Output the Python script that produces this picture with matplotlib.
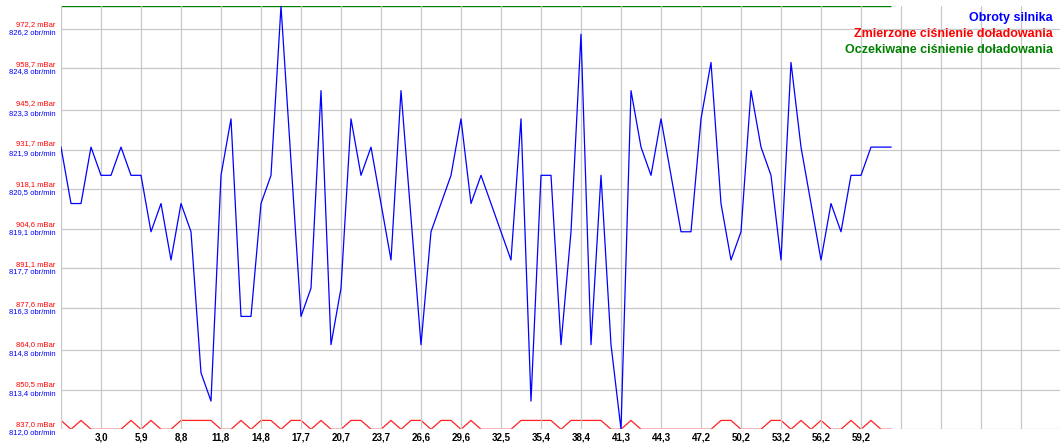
import matplotlib
matplotlib.use("Agg")
import matplotlib.pyplot as plt
import matplotlib.transforms as mtransforms

plt.rcParams['font.family'] = ['Liberation Sans', 'DejaVu Sans']

# engine speed [obr/min], one sample every step
rpm = [822, 820, 820, 822, 821, 821, 822, 821, 821, 819, 820, 818, 820, 819, 814, 813, 821, 823, 816, 816, 820,
       821, 827, 821.5, 816, 817, 824, 815, 817, 823, 821, 822, 820, 818, 824, 819.5, 815, 819, 820, 821, 823, 820,
       821, 820, 819, 818, 823, 813, 821, 821, 815, 819, 826, 815, 821, 815, 812, 824, 822, 821, 823, 821, 819,
       819, 823, 825, 820, 818, 819, 824, 822, 821, 818, 825, 822, 820, 818, 820, 819, 821, 821, 822, 822, 822]

# measured boost pressure [mBar]
boost = [840, 837, 840, 837, 837, 837, 837, 840, 837, 840, 837, 837, 840, 840, 840, 840, 837, 837, 840, 837, 840,
         840, 837, 840, 840, 837, 840, 837, 837, 840, 840, 837, 837, 840, 837, 840, 840, 837, 840, 840, 837, 840,
         837, 837, 837, 837, 840, 840, 840, 840, 837, 840, 840, 840, 840, 837, 837, 840, 837, 837, 837, 837, 837,
         837, 837, 837, 840, 840, 837, 837, 837, 840, 840, 837, 840, 837, 840, 837, 837, 840, 837, 840, 837, 837]

# expected boost pressure [mBar]
expected = 980.0

x_labels = ['3,0', '5,9', '8,8', '11,8', '14,8', '17,7', '20,7', '23,7', '26,6', '29,6',
            '32,5', '35,4', '38,4', '41,3', '44,3', '47,2', '50,2', '53,2', '56,2', '59,2']
rpm_ticks = [812.0, 813.4, 814.8, 816.3, 817.7, 819.1, 820.5, 821.9, 823.3, 824.8, 826.2]
bar_ticks = [837.0, 850.5, 864.0, 877.6, 891.1, 904.6, 918.1, 931.7, 945.2, 958.7, 972.2]

idx = list(range(len(rpm)))

W, H = 1061, 448
fig = plt.figure(figsize=(W / 100, H / 100), dpi=100)
ax = fig.add_axes([61 / W, (H - 429.3) / H, 999 / W, 423.3 / H])
ax2 = ax.twinx()

ax.set_ylim(812, 827)
ax2.set_ylim(837, 980)
ax.set_xlim(0, 99.9)

# grid
grid_x = list(range(0, 100, 4))
ax.set_xticks(grid_x)
lab = [''] * len(grid_x)
for k, t in enumerate(x_labels):
    lab[k + 1] = t
ax.set_xticklabels(lab, fontsize=7, fontweight='bold')
ax.set_yticks(rpm_ticks)
ax.set_yticklabels([('%.1f obr/min' % v).replace('.', ',') for v in rpm_ticks],
                   fontsize=5.5, color='#0000ff', va='top')
ax.grid(True, color='#c8c8c8', lw=0.9)
ax.tick_params(length=0, pad=2)
ax.tick_params(axis='y', pad=4)

ax2.yaxis.tick_left()
ax2.set_yticks(bar_ticks)
ax2.set_yticklabels([('%.1f mBar' % v).replace('.', ',') for v in bar_ticks],
                    fontsize=5.5, color='#ff0000', va='bottom')
ax2.tick_params(length=0, pad=4)

off_up = mtransforms.ScaledTranslation(0, 1.5 / 100, fig.dpi_scale_trans)
for t in ax2.get_yticklabels():
    t.set_transform(t.get_transform() + off_up)

for a in (ax, ax2):
    for s in a.spines.values():
        s.set_visible(False)

ax2.plot(idx, boost, color='#ff2020', lw=0.9)
ax2.hlines(expected, idx[0], idx[-1], color='#008000', lw=1.0)
ax.plot(idx, rpm, color='#0000ff', lw=0.9)
ax.set_zorder(ax2.get_zorder() + 1)
ax.patch.set_visible(False)

fig.text(1053 / W, 1 - 18 / H, 'Obroty silnika', color='#0000ff', fontsize=9,
         fontweight='bold', ha='right', va='center', zorder=10)
fig.text(1053 / W, 1 - 34 / H, 'Zmierzone ciśnienie doładowania', color='#ff0000', fontsize=9,
         fontweight='bold', ha='right', va='center', zorder=10)
fig.text(1053 / W, 1 - 50 / H, 'Oczekiwane ciśnienie doładowania', color='#008000', fontsize=9,
         fontweight='bold', ha='right', va='center', zorder=10)

fig.savefig('out.png', dpi=100)
